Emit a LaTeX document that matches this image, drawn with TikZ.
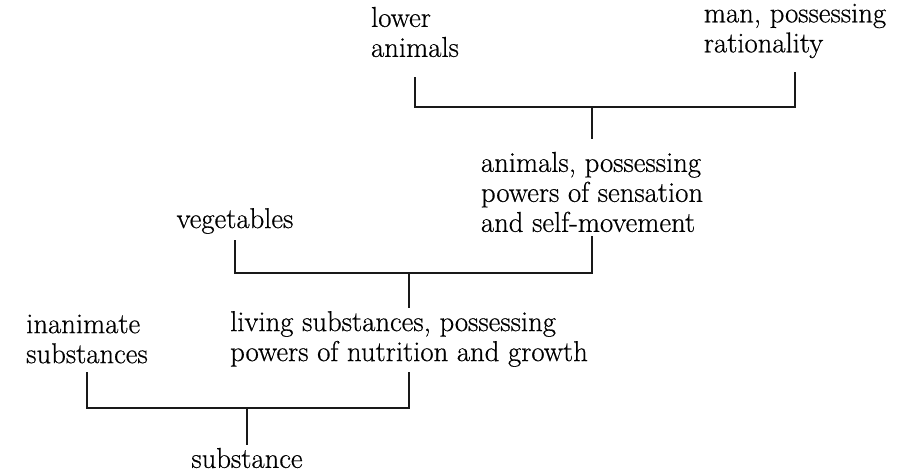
\documentclass[tikz,border=0pt]{standalone}
\usepackage{fontspec}
\setmainfont{Latin Modern Roman}[FakeBold=0.5]
\begin{document}
\begin{tikzpicture}[x=1pt,y=-1pt,
  lbl/.style={font=\fontsize{28.7}{30}\selectfont, align=left, inner sep=0pt, text=black},
  br/.style={line width=1.8pt, draw=black!90}]
\useasboundingbox (0,0) rectangle (920,475);
% labels
\node[lbl] (low) at (415,32) {lower\\animals};
\node[lbl] (man) at (795,31) {man, possessing\\rationality};
\node[lbl] (anim) at (592,192) {animals, possessing\\powers of sensation\\and self-movement};
\node[lbl] (veg) at (235,221) {vegetables};
\node[lbl] (inan) at (87,339) {inanimate\\substances};
\node[lbl] (liv) at (409,339) {living substances, possessing\\powers of nutrition and growth};
\node[lbl] (sub) at (247,458) {substance};
% top bracket
\draw[br] (low.south |- 0,77) |- (man.south |- 0,107) -- (man.south |- 0,72);
\draw[br] (anim.north |- 0,107) -- (anim.north |- 0,139);
% middle bracket
\draw[br] (veg.south |- 0,240) |- (anim.south |- 0,273) -- (anim.south |- 0,236);
\draw[br] (liv.north |- 0,273) -- (liv.north |- 0,308);
% bottom bracket
\draw[br] (inan.south |- 0,372) |- (liv.south |- 0,408) -- (liv.south |- 0,372);
\draw[br] (sub.north |- 0,408) -- (sub.north |- 0,445);
\end{tikzpicture}
\end{document}
